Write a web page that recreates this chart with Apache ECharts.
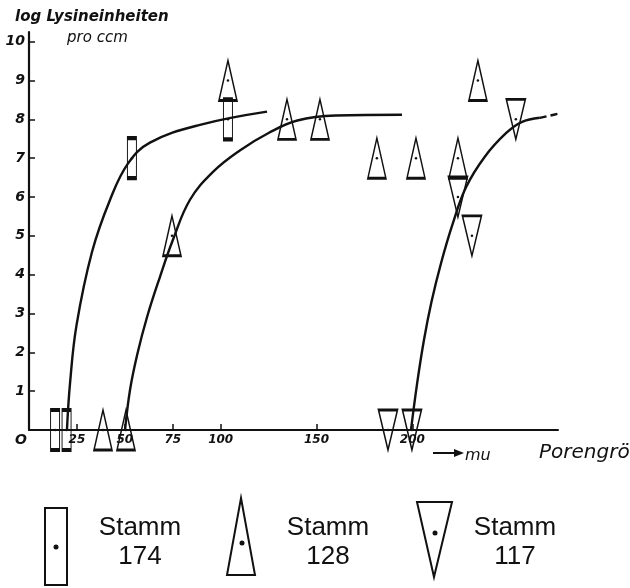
<!DOCTYPE html>
<html><head><meta charset="utf-8">
<script src="https://cdn.jsdelivr.net/npm/echarts@6/dist/echarts.min.js"></script>
<style>html,body{margin:0;padding:0;background:#fff}#c{width:630px;height:588px}</style>
</head><body><div id="c"></div>
<script>
// Marker data: [Porengröße (mu), log Lysineinheiten pro ccm]
const stamm174 = [[13.6,0],[19.6,0],[53.7,7],[103.8,8]];
const stamm128 = [[38.6,0],[50.6,0],[74.6,5],[103.8,9],[134.6,8],[151.8,8],[181.5,7],[201.9,7],[223.8,7],[234.2,9]];
const stamm117 = [[187.3,0],[199.8,0],[223.8,6],[231.1,5],[254,8]];
// Hand-drawn curves
const curve174 = [[19.8,0],[21.4,1.2],[24.8,2.7],[32.9,4.59],[42.3,5.93],[51.6,6.86],[63.1,7.40],[89.2,7.86],[124.2,8.2]];
const curve128 = [[50.1,0],[52.7,1.03],[56.5,1.95],[61.6,2.91],[68.3,3.94],[75.1,4.90],[84.0,5.93],[96.0,6.65],[110,7.2],[125,7.65],[140,7.97],[160,8.1],[194.6,8.12]];
const curve117 = [[199.3,0],[202.5,1.2],[206,2.3],[210,3.3],[215,4.3],[221,5.3],[228,6.25],[238,7.05],[249,7.65],[257,7.93],[266.5,8.04]];
const curve117ext = [[266.5,8.04],[281.2,8.2]];
const xTicks = [25,50,75,100,150,200];
const yTicks = [1,2,3,4,5,6,7,8,9,10];
const legendNames = ['Stamm\n174','Stamm\n128','Stamm\n117'];

const INK = '#111';
const chart = echarts.init(document.getElementById('c'));
const markerStyle = {color:'rgba(255,255,255,0)', borderColor:INK, borderWidth:2, opacity:1};
const dotSeries = (data) => ({type:'scatter', data, symbol:'circle', symbolSize:2.5, itemStyle:{color:INK, opacity:1}, z:5, silent:true});
const curveSeries = (data, dashed) => ({type:'line', data, showSymbol:false, symbol:'none', smooth:0.4, clip:false,
  lineStyle:{color:INK, width:2.4, type: dashed ? [7,4] : 'solid'}, z:4, silent:true});
const labelFont = {color:INK, fontFamily:'DejaVu Sans', fontStyle:'italic', fontWeight:'bold'};

chart.setOption({
  animation:false,
  backgroundColor:'#fff',
  grid:{left:29, right:72, top:32, bottom:158},
  xAxis:{type:'value', min:0, max:276,
    axisLine:{lineStyle:{color:INK, width:2}},
    axisTick:{show:true, inside:true, length:6, customValues:xTicks, lineStyle:{color:INK, width:1.5}},
    axisLabel:Object.assign({customValues:xTicks, fontSize:12, margin:4}, labelFont),
    splitLine:{show:false}},
  yAxis:{type:'value', min:0, max:10.25,
    axisLine:{show:true, lineStyle:{color:INK, width:2.2}},
    axisTick:{show:true, inside:true, length:6, customValues:yTicks, lineStyle:{color:INK, width:1.5}},
    axisLabel:Object.assign({customValues:yTicks, fontSize:14, margin:4}, labelFont),
    splitLine:{show:false}},
  series:[
    {type:'scatter', name:'174', data:stamm174, symbol:'rect', symbolSize:[9,40], itemStyle:markerStyle, z:3},
    {type:'scatter', name:'128', data:stamm128, symbol:'triangle', symbolSize:[18,40], itemStyle:markerStyle, z:3},
    {type:'scatter', name:'117', data:stamm117, symbol:'triangle', symbolRotate:180, symbolSize:[19,40], itemStyle:markerStyle, z:3},
    dotSeries(stamm174), dotSeries(stamm128), dotSeries(stamm117),
    curveSeries(curve174), curveSeries(curve128), curveSeries(curve117), curveSeries(curve117ext, true)
  ],
  graphic:[
    {type:'text', x:15, y:10, style:{text:'log Lysineinheiten', fill:INK, fontFamily:'DejaVu Sans', fontStyle:'italic', fontWeight:'bold', fontSize:15}},
    {type:'text', x:67, y:31, style:{text:'pro ccm', fill:INK, fontFamily:'DejaVu Sans', fontStyle:'italic', fontSize:15}},
    {type:'text', x:15, y:433, style:{text:'O', fill:INK, fontFamily:'DejaVu Sans', fontStyle:'italic', fontWeight:'bold', fontSize:14}},
    {type:'line', shape:{x1:433, y1:453, x2:458, y2:453}, style:{stroke:INK, lineWidth:2}},
    {type:'polygon', shape:{points:[[454,449],[464,453],[454,457]]}, style:{fill:INK}},
    {type:'text', x:465, y:448, style:{text:'mu', fill:INK, fontFamily:'DejaVu Sans', fontStyle:'italic', fontSize:16}},
    {type:'text', x:539, y:443, style:{text:'Porengröße', fill:INK, fontFamily:'DejaVu Sans', fontStyle:'italic', fontSize:20}},
    // legend
    {type:'rect', shape:{x:45, y:508, width:22, height:77}, style:{fill:'#fff', stroke:INK, lineWidth:2}},
    {type:'circle', shape:{cx:56, cy:547, r:2.5}, style:{fill:INK}},
    {type:'text', x:140, y:513, style:{text:legendNames[0], fill:INK, fontFamily:'Liberation Sans', fontSize:26, lineHeight:29, align:'center'}},
    {type:'polygon', shape:{points:[[241,498],[255,575],[227,575]]}, style:{fill:'#fff', stroke:INK, lineWidth:2}},
    {type:'circle', shape:{cx:242, cy:543, r:2.5}, style:{fill:INK}},
    {type:'text', x:328, y:513, style:{text:legendNames[1], fill:INK, fontFamily:'Liberation Sans', fontSize:26, lineHeight:29, align:'center'}},
    {type:'polygon', shape:{points:[[417,502],[452,502],[434,577]]}, style:{fill:'#fff', stroke:INK, lineWidth:2}},
    {type:'circle', shape:{cx:435, cy:533, r:2.5}, style:{fill:INK}},
    {type:'text', x:515, y:513, style:{text:legendNames[2], fill:INK, fontFamily:'Liberation Sans', fontSize:26, lineHeight:29, align:'center'}}
  ]
});
</script></body></html>
